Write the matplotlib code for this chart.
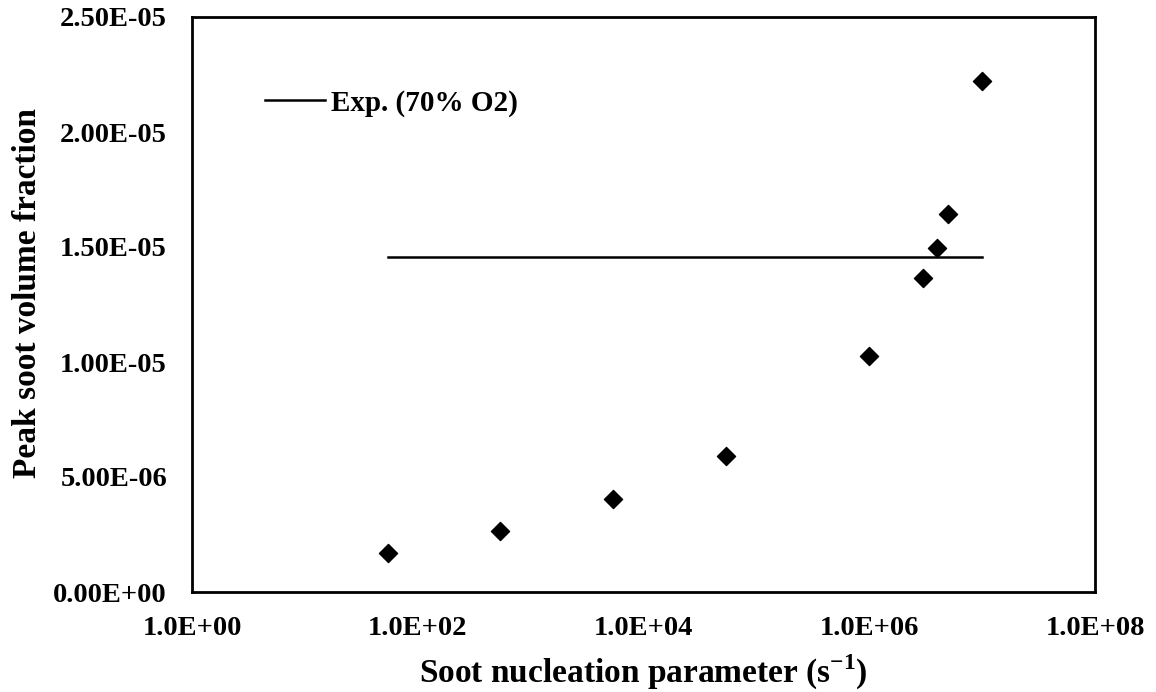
import matplotlib.pyplot as plt
from matplotlib.ticker import FixedLocator, FuncFormatter

plt.rcParams['font.family'] = ['Liberation Serif', 'DejaVu Serif']
plt.rcParams['font.weight'] = 'bold'
plt.rcParams['mathtext.fontset'] = 'custom'
plt.rcParams['mathtext.rm'] = 'Liberation Serif:bold'
plt.rcParams['mathtext.bf'] = 'Liberation Serif:bold'

# Model runs: nucleation parameter vs peak soot volume fraction
nucleation = [54, 540, 5400, 54000, 1.0e6, 3.0e6, 4.0e6, 5.0e6, 1.0e7]
peak_fv = [1.68e-6, 2.65e-6, 4.03e-6, 5.91e-6, 1.027e-5, 1.364e-5, 1.497e-5, 1.642e-5, 2.222e-5]

# Measured value, drawn as a flat reference line
exp_x = [54, 1.0e7]
exp_fv = [1.455e-5, 1.455e-5]

x_ticks = [1e0, 1e2, 1e4, 1e6, 1e8]
y_ticks = [0, 5e-6, 1e-5, 1.5e-5, 2e-5, 2.5e-5]

fig = plt.figure(figsize=(11.56, 6.92), dpi=100)
ax = fig.add_axes([192 / 1156, 1 - 592 / 692, 903 / 1156, 575 / 692])

ax.plot(exp_x, exp_fv, color='black', lw=1.8, label='Exp. (70% O2)')
ax.scatter(nucleation, peak_fv, marker='D', s=85, color='black', zorder=3)

ax.set_xscale('log')
ax.set_xlim(1e0, 1e8)
ax.set_ylim(0, 2.5e-5)
ax.xaxis.set_major_locator(FixedLocator(x_ticks))
ax.xaxis.set_minor_locator(FixedLocator([]))
ax.yaxis.set_major_locator(FixedLocator(y_ticks))
ax.xaxis.set_major_formatter(FuncFormatter(lambda v, p: '%.1E' % v))
ax.yaxis.set_major_formatter(FuncFormatter(lambda v, p: '%.2E' % v))
ax.tick_params(axis='both', length=0, labelsize=20.5)
ax.tick_params(axis='x', pad=17)
ax.tick_params(axis='y', pad=18)

for s in ax.spines.values():
    s.set_linewidth(2)

ax.set_xlabel('Soot nucleation parameter (s$^{\\mathbf{-1}}$)', fontsize=24,
              fontweight='bold')
ax.xaxis.set_label_coords(0.5, -0.105)
ax.set_ylabel('Peak soot volume fraction', fontsize=24, fontweight='bold')
ax.yaxis.set_label_coords(-0.165, 0.52)

ax.legend(loc='upper left', bbox_to_anchor=(0.055, 0.915), frameon=False,
          fontsize=21, handlelength=2.05, handletextpad=0.2, borderpad=0.3)

fig.savefig('out.png', dpi=100)
